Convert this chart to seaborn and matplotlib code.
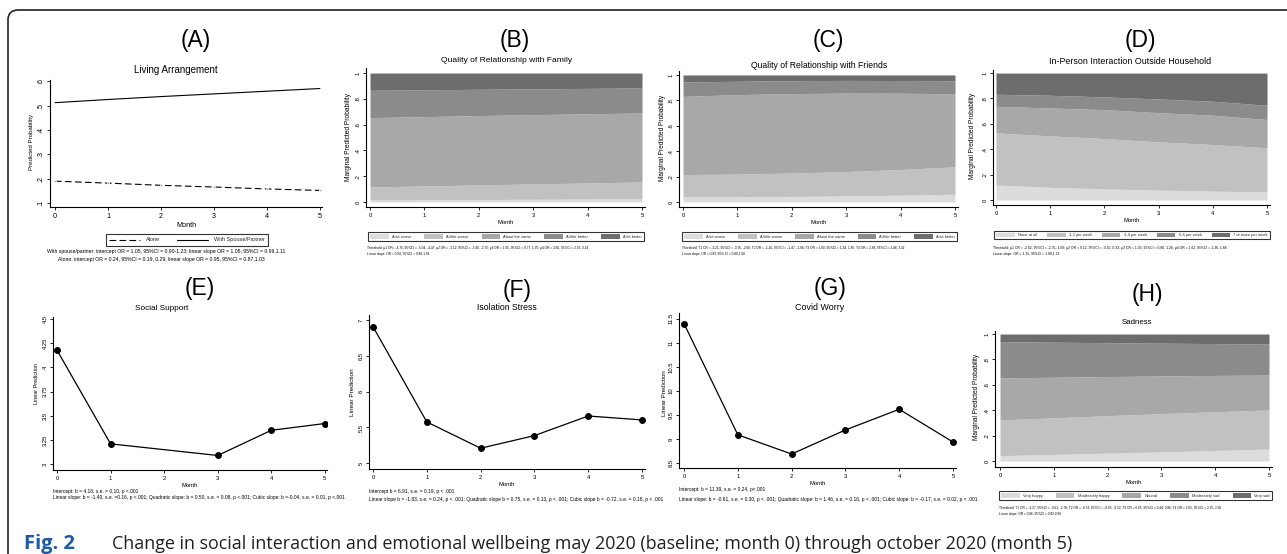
import matplotlib
matplotlib.use("Agg")
import matplotlib.pyplot as plt
import seaborn as sns
from matplotlib.patches import FancyBboxPatch
from matplotlib.transforms import IdentityTransform

W, H = 1287, 554

# ---- data ----
months = [0, 1, 2, 3, 4, 5]

# (A) Living arrangement, predicted probability
alone = [0.190, 0.182, 0.173, 0.166, 0.158, 0.152]
spouse = [0.512, 0.525, 0.537, 0.548, 0.559, 0.570]

# (B) Quality of relationship with family (category probabilities, bottom -> top)
family_labels = ["A lot worse", "A little worse", "About the same", "A little better", "A lot better"]
family_probs = [
    [0.015, 0.017, 0.019, 0.021, 0.023, 0.025],
    [0.101, 0.107, 0.113, 0.119, 0.124, 0.130],
    [0.538, 0.538, 0.538, 0.537, 0.537, 0.535],
    [0.212, 0.208, 0.204, 0.200, 0.197, 0.194],
    [0.134, 0.130, 0.126, 0.123, 0.119, 0.116],
]

# (C) Quality of relationship with friends
friends_labels = ["A lot worse", "A little worse", "About the same", "A little better", "A lot better"]
friends_probs = [
    [0.040, 0.041, 0.044, 0.048, 0.054, 0.061],
    [0.176, 0.179, 0.184, 0.192, 0.202, 0.216],
    [0.615, 0.625, 0.625, 0.617, 0.600, 0.575],
    [0.114, 0.105, 0.102, 0.100, 0.100, 0.103],
    [0.055, 0.050, 0.045, 0.043, 0.044, 0.045],
]

# (D) In-person interaction outside household
inperson_labels = ["None at all", "1-2 per week", "3-4 per week", "5-6 per week", "7 or more per week"]
inperson_probs = [
    [0.118, 0.100, 0.088, 0.078, 0.070, 0.065],
    [0.411, 0.405, 0.396, 0.380, 0.367, 0.346],
    [0.209, 0.220, 0.228, 0.230, 0.231, 0.223],
    [0.095, 0.100, 0.100, 0.108, 0.110, 0.112],
    [0.167, 0.175, 0.188, 0.204, 0.222, 0.254],
]

# (H) Sadness
sad_labels = ["Very happy", "Moderately happy", "Neutral", "Moderately sad", "Very sad"]
sad_probs = [
    [0.042, 0.052, 0.062, 0.072, 0.083, 0.094],
    [0.281, 0.288, 0.295, 0.301, 0.305, 0.308],
    [0.331, 0.320, 0.308, 0.297, 0.286, 0.275],
    [0.286, 0.276, 0.267, 0.258, 0.251, 0.244],
    [0.060, 0.064, 0.068, 0.072, 0.075, 0.079],
]

# (E) Social support (no month-2 estimate)
support_months = [0, 1, 3, 4, 5]
support = [4.177, 3.21, 3.09, 3.35, 3.42]
# (F) Isolation stress
isolation = [6.907, 5.577, 5.21, 5.386, 5.66, 5.605]
# (G) Covid worry
worry = [11.40, 9.09, 8.69, 9.19, 9.62, 8.94]

prob_ticks = [0, 0.2, 0.4, 0.6, 0.8, 1]
prob_tick_labels = ["0", ".2", ".4", ".6", ".8", "1"]
a_ticks = [0.1, 0.2, 0.3, 0.4, 0.5, 0.6]
a_tick_labels = [".1", ".2", ".3", ".4", ".5", ".6"]
e_ticks = [3, 3.25, 3.5, 3.75, 4, 4.25, 4.5]
e_tick_labels = ["3", "3.25", "3.5", "3.75", "4", "4.25", "4.5"]
f_ticks = [5, 5.5, 6, 6.5, 7]
f_tick_labels = ["5", "5.5", "6", "6.5", "7"]
g_ticks = [8.5, 9, 9.5, 10, 10.5, 11, 11.5]
g_tick_labels = ["8.5", "9", "9.5", "10", "10.5", "11", "11.5"]

grays = ["#dcdcdc", "#c1c1c1", "#a8a8a8", "#8b8b8b", "#6d6d6d"]

sns.set_theme(style="ticks")
plt.rcParams["font.family"] = ["Liberation Sans", "DejaVu Sans"]

fig = plt.figure(figsize=(W / 100, H / 100), dpi=100)
fig.patch.set_facecolor("white")


def fx(x):
    return x / W


def fy(y):
    return 1 - y / H


def add_ax(l, t, r, b):
    return fig.add_axes([fx(l), fy(b), (r - l) / W, (b - t) / H])


def style(ax, xlim, ylim, yticks, yticklabels, fs=4.5):
    sns.despine(ax=ax)
    for s in ["left", "bottom"]:
        ax.spines[s].set_linewidth(0.8)
        ax.spines[s].set_color("black")
    ax.set_facecolor("white")
    ax.set_xlim(*xlim)
    ax.set_ylim(*ylim)
    ax.set_xticks(months)
    ax.set_xticklabels([str(m) for m in months])
    ax.set_yticks(yticks)
    ax.set_yticklabels(yticklabels, rotation=90, va="center")
    ax.tick_params(axis="both", length=2.5, width=0.6, color="black",
                   labelsize=fs, pad=1.5, labelcolor="black")
    ax.set_xlabel("Month", fontsize=fs, labelpad=1.5, color="black")
    ax.set_ylabel("")


def area_panel(box, probs, labels, xlim, ylim, leg_box):
    ax = add_ax(*box)
    ax.stackplot(months, *probs, colors=grays, labels=labels, linewidth=0)
    style(ax, xlim, ylim, prob_ticks, prob_tick_labels, fs=4.2)
    l, t, r, b = leg_box
    leg = ax.legend(loc="center", bbox_to_anchor=(fx(l), fy(b), (r - l) / W, (b - t) / H),
                    bbox_transform=fig.transFigure, mode="expand", ncol=5, fontsize=2.9,
                    frameon=True, fancybox=False, edgecolor="black", handlelength=4.6,
                    handleheight=1.5, borderpad=0.5, handletextpad=0.8, columnspacing=0.8,
                    borderaxespad=0)
    leg.get_frame().set_linewidth(0.8)
    return ax


def line_panel(box, x, y, xlim, ylim, yticks, yticklabels):
    ax = add_ax(*box)
    sns.lineplot(x=x, y=y, ax=ax, color="black", linewidth=0.9, marker="o",
                 markersize=4.2, markeredgecolor="black", markerfacecolor="black")
    style(ax, xlim, ylim, yticks, yticklabels, fs=4.2)
    return ax


# ---- (A) ----
axA = add_ax(50, 80, 322, 207)
sns.lineplot(x=months, y=alone, ax=axA, color="black", linewidth=0.8, label="Alone",
             marker="s", markersize=1.2)
axA.lines[-1].set_dashes([6, 3])
sns.lineplot(x=months, y=spouse, ax=axA, color="black", linewidth=0.8, label="With Spouse/Partner")
style(axA, (-0.094, 5.04), (0.084, 0.605), a_ticks, a_tick_labels, fs=5.2)
legA = axA.legend(loc="center", bbox_to_anchor=(fx(187), fy(240)), bbox_transform=fig.transFigure,
                  ncol=2, fontsize=4, frameon=True, fancybox=False, edgecolor="black",
                  handlelength=5.5, handletextpad=1.2, columnspacing=3.0, borderpad=0.6,
                  borderaxespad=0)
legA.get_frame().set_linewidth(0.8)
for h in legA.legend_handles:
    h.set_marker("")

# ---- (B), (C), (D), (H) ----
area_panel((366, 68, 645, 207), family_probs, family_labels, (-0.074, 5.055), (-0.039, 1.039),
           (368, 229, 644, 244))
area_panel((679, 71, 958, 207), friends_probs, friends_labels, (-0.074, 5.055), (-0.039, 1.031),
           (682, 229, 957, 244))
area_panel((993, 70, 1270, 205), inperson_probs, inperson_labels, (-0.055, 5.055), (-0.039, 1.024),
           (994, 228, 1270, 242))
area_panel((995, 331, 1272, 467), sad_probs, sad_labels, (-0.093, 5.056), (-0.047, 1.024),
           (999, 488, 1272, 503))

# ---- (E), (F), (G) ----
line_panel((53, 317, 327, 470), support_months, support, (-0.075, 5.04), (2.94, 4.52),
           e_ticks, e_tick_labels)
line_panel((369, 315, 645, 469), months, isolation, (-0.074, 5.055), (4.92, 7.07),
           f_ticks, f_tick_labels)
line_panel((679, 313, 956, 468), months, worry, (-0.093, 5.056), (8.4, 11.62),
           g_ticks, g_tick_labels)

# ---- panel letters and titles ----
letters = [("(A)", 196, 41), ("(B)", 515, 40), ("(C)", 828, 40), ("(D)", 1140, 40),
           ("(E)", 200, 288), ("(F)", 517, 290), ("(G)", 830, 288), ("(H)", 1147, 295)]
for txt, x, y in letters:
    fig.text(fx(x), fy(y), txt, fontsize=16.5, ha="center", va="center", color="black")

titles = [("Living Arrangement", 176, 70, 7.0), ("Quality of Relationship with Family", 507, 61, 6.1),
          ("Quality of Relationship with Friends", 819, 65, 6.2),
          ("In-Person Interaction Outside Household", 1130, 61, 6.4),
          ("Social Support", 162, 309, 5.9), ("Isolation Stress", 507, 308, 6.3),
          ("Covid Worry", 820, 307, 6.4), ("Sadness", 1137, 322, 5.7)]
for txt, x, y, fs in titles:
    fig.text(fx(x), fy(y), txt, fontsize=fs, ha="center", va="center", color="black")

ylabels = [("Predicted Probability", 32, 142, 4.4), ("Marginal Predicted Probability", 348, 137, 4.8),
           ("Marginal Predicted Probability", 663, 138, 4.7),
           ("Marginal Predicted Probability", 973, 136, 4.7),
           ("Linear Prediction", 37, 384, 3.9), ("Linear Prediction", 353, 392, 4.6),
           ("Linear Prediction", 665, 393, 4.4), ("Marginal Predicted Probability", 977, 397, 4.7)]
for txt, x, y, fs in ylabels:
    fig.text(fx(x), fy(y), txt, fontsize=fs, rotation=90, ha="center", va="center", color="black")

# ---- notes under each panel ----
notes_center = [
    ("With spouse/partner: intercept OR = 1.05, 95%CI = 0.90-1.23; linear slope OR = 1.05, 95%CI = 0.99,1.11", 166, 252),
    ("Alone: intercept OR = 0.24, 95%CI = 0.19, 0.29; linear slope OR = 0.95, 95%CI = 0.87,1.03", 161, 260),
]
for txt, x, y in notes_center:
    fig.text(fx(x), fy(y), txt, fontsize=3.7, ha="center", va="center", color="black")

notes_left = [
    ("Threshold: μ1 OR= -4.76, 95%CI = -5.04, -4.47; μ2 OR = -3.12, 95%CI = -3.40, -2.75; μ3 OR = 1.05, 95%CI = 0.77, 1.35; μ4 OR = 2.66, 95%CI = 2.32, 3.24", 367, 248, 2.3),
    ("Linear slope: OR = 0.94, 95%CI = 0.88-1.01", 367, 254, 2.3),
    ("Threshold: T1 OR = -3.21, 95%CI = -3.76, -2.66; T2 OR = -1.26, 95%CI = -1.47, -1.06; T3 OR = 1.60, 95%CI = 1.34, 1.85; T4 OR = 2.88, 95%CI = 2.48, 3.32", 682, 248, 2.3),
    ("Linear slope: OR = 0.93, 95% CI = 0.88,1.00", 682, 254, 2.3),
    ("Threshold: μ1 OR = -2.02, 95%CI = -2.35,-1.69; μ2 OR = 0.12, 95%CI = -0.10, 0.33; μ3 OR = 1.03, 95%CI = 0.80, 1.26; μ4 OR = 1.62, 95%CI = 1.36, 1.88", 993, 248, 2.4),
    ("Linear slope: OR = 1.15, 95%CI = 1.08,1.23", 993, 254, 2.4),
    ("Threshold: T1 OR = -3.27, 95%CI = -3.61, -2.78; T2 OR = -0.74, 95%CI = -0.95, -0.52; T3 OR = 0.65, 95%CI = 0.44, 0.86; T4 OR = 2.65, 95%CI = 2.35, 2.96", 999, 508, 2.3),
    ("Linear slope: OR = 0.86, 95%CI = 0.82,0.90", 999, 514, 2.3),
    ("Intercept: b = 4.18, s.e. = 0.10, p <.001", 53, 491, 3.5),
    ("Linear slope: b = -1.40, s.e. =0.16, p <.001; Quadratic slope: b = 0.50, s.e. = 0.08, p <.001; Cubic slope: b =-0.04, s.e. = 0.01, p <.001", 53, 498, 3.5),
    ("Intercept b = 6.91, s.e. = 0.19, p < .001", 369, 491, 3.5),
    ("Linear slope b = -1.83, s.e. = 0.24, p < .001; Quadratic slope b = 0.75, s.e. = 0.13, p < .001; Cubic slope b = -0.72, s.e. = 0.18, p < .001", 369, 500, 3.5),
    ("Intercept: b = 11.39, s.e. = 0.24, p<.001", 679, 490, 3.5),
    ("Linear slope: b = -0.61, s.e. = 0.30, p < .001; Quadratic slope: b = 1.46, s.e. = 0.16, p < .001; Cubic slope: b = -0.17, s.e. = 0.02, p < .001", 679, 499, 3.5),
]
for txt, x, y, fs in notes_left:
    fig.text(fx(x), fy(y), txt, fontsize=fs, ha="left", va="center", color="black")

# ---- caption and frame ----
cap_font = ["Open Sans", "DejaVu Sans"]
fig.text(fx(24), fy(549), "Fig. 2", fontsize=14.5, fontweight="bold", color="#1c5aa6",
         family=cap_font, va="baseline", ha="left")
fig.text(fx(112), fy(549),
         "Change in social interaction and emotional wellbeing may 2020 (baseline; month 0) through october 2020 (month 5)",
         fontsize=12.9, color="#231f20", family=cap_font, va="baseline", ha="left")

frame = FancyBboxPatch((8, -100), 1400, 644, boxstyle="round,pad=0,rounding_size=10",
                       fill=False, edgecolor="#333333", linewidth=1.3, transform=IdentityTransform())
fig.add_artist(frame)

fig.savefig("out.png", dpi=100)
plt.close(fig)
